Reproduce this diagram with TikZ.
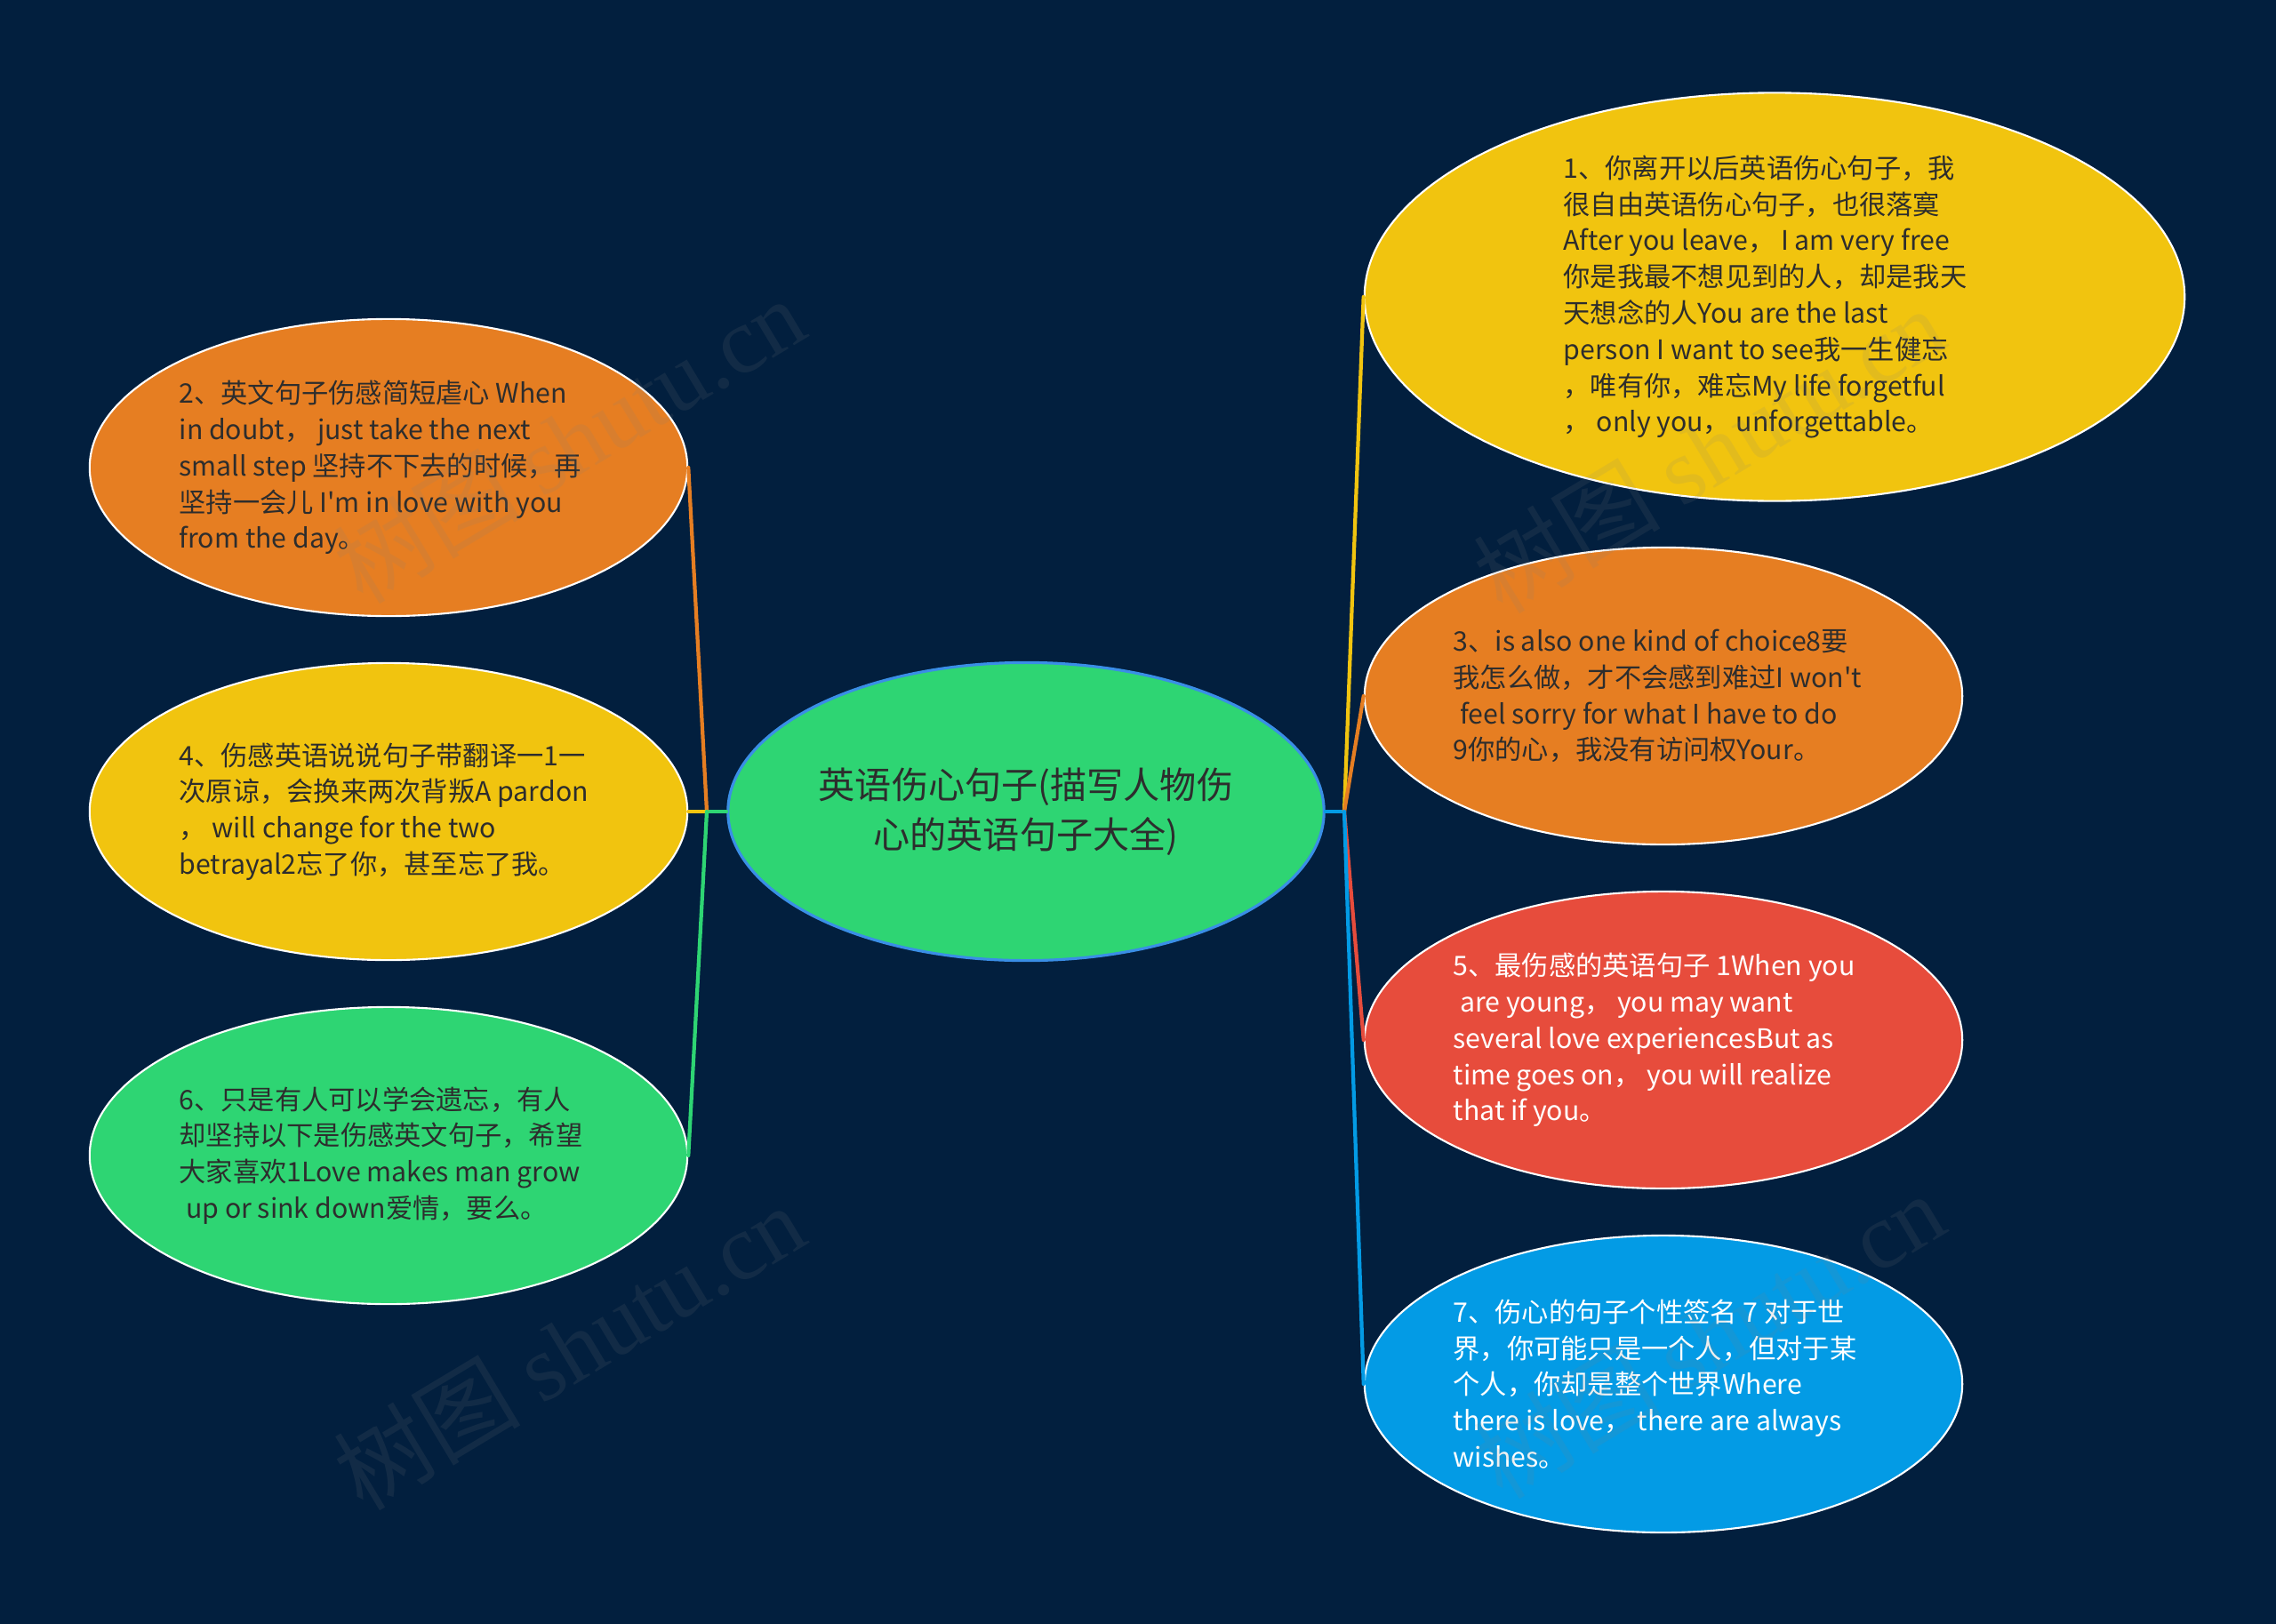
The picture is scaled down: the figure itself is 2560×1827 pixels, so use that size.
\documentclass[tikz,border=0pt]{standalone}
\usepackage{fontspec}
\setmainfont{Noto Sans CJK SC}[Ligatures=TeXOff]
\newfontfamily\wmserif{Liberation Serif}
\usetikzlibrary{shapes.geometric}
\definecolor{bgc}{RGB}{2,31,62}
\definecolor{cgreen}{RGB}{46,213,115}
\definecolor{cborder}{RGB}{58,142,230}
\definecolor{cyellow}{RGB}{241,196,15}
\definecolor{corange}{RGB}{230,126,34}
\definecolor{cred}{RGB}{231,76,60}
\definecolor{cblue}{RGB}{3,155,229}
\definecolor{txtdark}{RGB}{45,45,45}
\tikzset{
  bubble/.style={ellipse, draw=white, line width=0.6pt, inner sep=0pt, minimum width=6.72cm, minimum height=3.34cm},
  btext/.style={anchor=west, align=left, inner sep=0pt, font=\fontsize{8.6}{11.6}\selectfont, text=txtdark},
  wtext/.style={btext, text=white},
  conn/.style={line width=1.2pt, line cap=round},
  wmark/.style={rotate=31, text=gray, opacity=0.13, inner sep=0pt, font=\fontsize{30}{30}\selectfont},
}
\begin{document}
\begin{tikzpicture}[x=0.01cm,y=-0.01cm]
\fill[bgc] (0,0) rectangle (2560,1827);
\useasboundingbox (0,0) rectangle (2560,1827);

% bubbles
\node[bubble, fill=cgreen, draw=cborder, line width=0.9pt, minimum width=6.70cm, minimum height=3.35cm] (c) at (1154,913) {};
\node[bubble, fill=cyellow, minimum width=9.22cm, minimum height=4.59cm] (e1) at (1996,334) {};
\node[bubble, fill=corange] (e2) at (437,526) {};
\node[bubble, fill=corange] (e3) at (1871,783) {};
\node[bubble, fill=cyellow] (e4) at (437,913) {};
\node[bubble, fill=cred] (e5) at (1871,1170) {};
\node[bubble, fill=cgreen] (e6) at (437,1300) {};
\node[bubble, fill=cblue] (e7) at (1871,1557) {};

% junctions
\coordinate (jl) at (795,913);
\coordinate (jr) at (1512,913);

% connectors
\draw[conn, cgreen] (c.west) -- (jl);
\draw[conn, corange] (jl) -- (e2.east);
\draw[conn, cyellow] (jl) -- (e4.east);
\draw[conn, cgreen] (jl) -- (e6.east);
\draw[conn, cblue] (c.east) -- (jr);
\draw[conn, cyellow] (jr) -- (e1.west);
\draw[conn, corange] (jr) -- (e3.west);
\draw[conn, cred] (jr) -- (e5.west);
\draw[conn, cblue] (jr) -- (e7.west);

% texts
\node[align=center, inner sep=0pt, text=txtdark, font=\fontsize{11.7}{15.8}\selectfont] (ct) at (1154,913)
  {英语伤心句子(描写人物伤\\心的英语句子大全)};

\node[btext] (t1) at (1758,334) {1、你离开以后英语伤心句子，我\\很自由英语伤心句子，也很落寞\\After you leave， I am very free\\你是我最不想见到的人，却是我天\\天想念的人You are the last\\person I want to see我一生健忘\\，唯有你，难忘My life forgetful\\， only you， unforgettable。};

\node[btext] (t2) at (201,526) {2、英文句子伤感简短虐心 When\\in doubt， just take the next\\small step 坚持不下去的时候，再\\坚持一会儿 I'm in love with you\\from the day。};

\node[btext] (t3) at (1634,783) {3、is also one kind of choice8要\\我怎么做，才不会感到难过I won't\\\hspace*{0.25em}feel sorry for what I have to do\\9你的心，我没有访问权Your。};

\node[btext] (t4) at (201,913) {4、伤感英语说说句子带翻译一1一\\次原谅，会换来两次背叛A pardon\\， will change for the two\\betrayal2忘了你，甚至忘了我。};

\node[wtext] (t5) at (1634,1170) {5、最伤感的英语句子 1When you\\\hspace*{0.25em}are young， you may want\\several love experiencesBut as\\time goes on， you will realize\\that if you。};

\node[btext] (t6) at (201,1300) {6、只是有人可以学会遗忘，有人\\却坚持以下是伤感英文句子，希望\\大家喜欢1Love makes man grow\\\hspace*{0.25em}up or sink down爱情，要么。};

\node[wtext] (t7) at (1634,1557) {7、伤心的句子个性签名 7 对于世\\界，你可能只是一个人，但对于某\\个人，你却是整个世界Where\\there is love， there are always\\wishes。};

% watermarks
\node[wmark] (wm1) at (640,495) {树图 {\wmserif shutu.cn}};
\node[wmark] (wm2) at (640,1515) {树图 {\wmserif shutu.cn}};
\node[wmark] (wm3) at (1922,506) {树图 {\wmserif shutu.cn}};
\node[wmark] (wm4) at (1922,1502) {树图 {\wmserif shutu.cn}};
\end{tikzpicture}
\end{document}
